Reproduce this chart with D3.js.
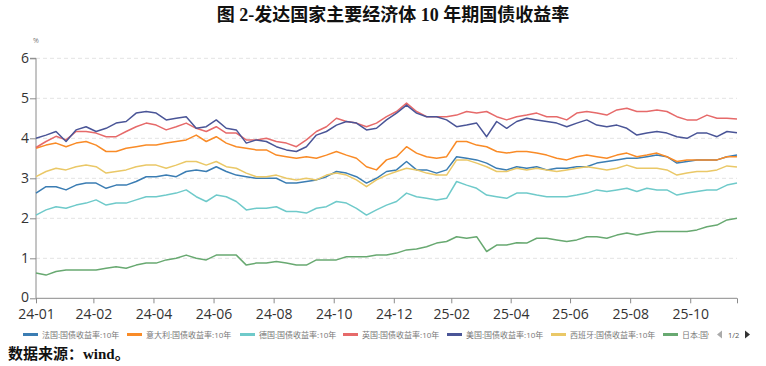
<!DOCTYPE html>
<html>
<head>
<meta charset="utf-8">
<script src="https://cdn.jsdelivr.net/npm/d3@7"></script>
<style>
  html, body { margin: 0; padding: 0; background: #fff; }
  svg { display: block; }
</style>
</head>
<body>
<svg id="chart" width="766" height="366"></svg>
<script>
// 10y government bond yields (%), roughly one point every ~7 trading days
const france = [2.63,2.79,2.79,2.71,2.83,2.88,2.88,2.75,2.83,2.83,2.92,3.04,3.04,3.08,3.04,3.17,3.21,3.17,3.29,3.17,3.08,3.04,3.0,3.0,3.0,
  2.88,2.88,2.92,2.96,3.04,3.17,3.13,3.04,2.88,3.0,3.17,3.21,3.42,3.21,3.21,3.13,3.21,3.54,3.5,3.46,3.38,3.25,3.21,3.29,
  3.25,3.29,3.21,3.25,3.25,3.29,3.29,3.38,3.42,3.46,3.5,3.5,3.54,3.58,3.54,3.38,3.42,3.46,3.46,3.46,3.54,3.58];
const italy = [3.75,3.83,3.88,3.79,3.88,3.92,3.83,3.67,3.67,3.75,3.79,3.83,3.83,3.88,3.92,3.96,4.08,3.92,4.04,3.88,3.79,3.75,3.71,3.71,3.58,
  3.54,3.5,3.54,3.5,3.58,3.67,3.58,3.5,3.29,3.21,3.46,3.54,3.79,3.63,3.54,3.5,3.54,3.92,3.92,3.83,3.79,3.67,3.63,3.67,
  3.67,3.63,3.58,3.5,3.46,3.54,3.58,3.54,3.5,3.58,3.63,3.54,3.58,3.63,3.54,3.42,3.46,3.46,3.46,3.46,3.54,3.54];
const germany = [2.08,2.21,2.29,2.25,2.33,2.38,2.46,2.33,2.38,2.38,2.46,2.54,2.54,2.58,2.63,2.71,2.54,2.42,2.58,2.54,2.42,2.21,2.25,2.25,2.29,
  2.17,2.17,2.13,2.25,2.29,2.42,2.38,2.25,2.08,2.21,2.33,2.42,2.63,2.54,2.5,2.46,2.5,2.92,2.83,2.75,2.58,2.54,2.5,2.63,
  2.63,2.58,2.54,2.54,2.54,2.58,2.63,2.71,2.67,2.71,2.75,2.67,2.75,2.71,2.71,2.58,2.63,2.67,2.71,2.71,2.83,2.88];
const uk = [3.77,3.92,4.05,3.96,4.17,4.17,4.13,4.04,4.04,4.17,4.29,4.38,4.33,4.21,4.29,4.38,4.25,4.17,4.29,4.13,4.13,3.96,3.96,4.0,3.92,
  3.88,3.79,3.96,4.17,4.29,4.5,4.42,4.38,4.29,4.38,4.54,4.67,4.88,4.67,4.54,4.54,4.54,4.58,4.67,4.63,4.67,4.54,4.46,4.54,
  4.58,4.63,4.54,4.54,4.46,4.63,4.67,4.63,4.58,4.71,4.75,4.67,4.67,4.71,4.67,4.54,4.46,4.46,4.58,4.5,4.5,4.48];
const us = [4.0,4.08,4.17,3.92,4.21,4.29,4.17,4.25,4.38,4.42,4.63,4.67,4.63,4.46,4.5,4.54,4.25,4.29,4.46,4.25,4.21,3.88,3.96,3.92,3.79,
  3.71,3.67,3.79,4.08,4.17,4.33,4.42,4.38,4.21,4.25,4.46,4.63,4.83,4.63,4.54,4.54,4.46,4.29,4.33,4.38,4.04,4.42,4.25,4.42,
  4.5,4.46,4.42,4.38,4.29,4.38,4.46,4.33,4.29,4.33,4.25,4.08,4.13,4.17,4.13,4.04,4.0,4.13,4.13,4.04,4.17,4.14];
const spain = [3.04,3.17,3.25,3.21,3.29,3.33,3.29,3.13,3.17,3.21,3.29,3.33,3.33,3.25,3.33,3.42,3.42,3.33,3.42,3.29,3.25,3.13,3.04,3.04,3.08,
  3.0,2.96,3.0,2.96,3.08,3.13,3.08,2.96,2.79,2.96,3.08,3.17,3.25,3.21,3.13,3.08,3.08,3.46,3.46,3.38,3.29,3.17,3.17,3.25,
  3.21,3.25,3.21,3.17,3.21,3.25,3.29,3.25,3.21,3.25,3.33,3.25,3.25,3.25,3.21,3.08,3.13,3.17,3.17,3.21,3.31,3.28];
const japan = [0.63,0.58,0.67,0.71,0.71,0.71,0.71,0.75,0.79,0.75,0.83,0.88,0.88,0.96,1.0,1.08,1.0,0.96,1.08,1.08,1.08,0.83,0.88,0.88,0.92,
  0.88,0.83,0.83,0.96,0.96,0.96,1.04,1.04,1.04,1.08,1.08,1.13,1.21,1.23,1.29,1.38,1.42,1.54,1.5,1.54,1.17,1.33,1.33,1.39,
  1.38,1.5,1.5,1.46,1.42,1.46,1.54,1.54,1.5,1.58,1.63,1.58,1.63,1.67,1.67,1.67,1.67,1.71,1.79,1.83,1.96,2.0];

// legend names as they show on page 1 (the last one is cut off by the pager)
const seriesNames = ['法国:国债收益率:10年', '意大利:国债收益率:10年', '德国:国债收益率:10年', '英国:国债收益率:10年',
  '美国:国债收益率:10年', '西班牙:国债收益率:10年', '日本:国债'];
const seriesValues = [france, italy, germany, uk, us, spain, japan];
const colors = ['#3b7db3', '#f98b27', '#6fcaca', '#e66a6a', '#4a5597', '#eac867', '#68a971'];

// x axis is by observation index; tick positions where the month labels fall
const xTickPos = [0, 5.73, 11.73, 17.73, 23.73, 29.73, 35.73, 41.47, 47.4, 53.33, 59.33, 65.33, 70];
const xTickLabels = ['24-01', '24-02', '24-04', '24-06', '24-08', '24-10', '24-12', '25-02', '25-04', '25-06', '25-08', '25-10', ''];
const yTicks = [0, 1, 2, 3, 4, 5, 6];

let svg = d3.select('#chart');
let x = d3.scaleLinear().domain([0, 70]).range([36, 737]);
let y = d3.scaleLinear().domain([0, 6]).range([298.3, 58.3]);

const sansFont = '"Open Sans", "Noto Sans CJK SC", sans-serif';
const serifFont = '"Liberation Serif", "Noto Sans CJK SC", serif';

// title
svg.append('text')
  .attr('x', 393).attr('y', 21)
  .attr('text-anchor', 'middle')
  .attr('font-family', serifFont)
  .attr('font-weight', 'bold')
  .attr('font-size', 18)
  .attr('fill', '#111')
  .text('图 2-发达国家主要经济体 10 年期国债收益率');

// unit
svg.append('text')
  .attr('x', 33).attr('y', 43)
  .attr('font-family', sansFont)
  .attr('font-size', 7)
  .attr('fill', '#777')
  .text('%');

// grid
svg.append('g')
  .selectAll('line')
  .data(yTicks.filter(d => d > 0))
  .join('line')
  .attr('x1', x(0)).attr('x2', x(70))
  .attr('y1', d => y(d)).attr('y2', d => y(d))
  .attr('stroke', '#e3e3e3')
  .attr('stroke-dasharray', '4,3');

// y axis
let yAxis = svg.append('g')
  .attr('transform', `translate(${x(0)},0)`)
  .call(d3.axisLeft(y).tickValues(yTicks).tickSize(6).tickPadding(1).tickFormat(d3.format('d')));
yAxis.select('.domain').attr('stroke', '#8a8a8a').attr('d', `M-6,${y(6)}H0V${y(0)}`);
yAxis.selectAll('.tick line').attr('stroke', '#8a8a8a');
yAxis.selectAll('.tick text')
  .attr('font-family', sansFont)
  .attr('font-size', 14)
  .attr('fill', '#333');
// keep the 0 clear of the first month label
yAxis.selectAll('.tick text').filter(d => d === 0).attr('dy', '0.2em');

// x axis
let xAxis = svg.append('g')
  .attr('transform', `translate(0,${y(0)})`)
  .call(d3.axisBottom(x).tickValues(xTickPos).tickSize(5).tickPadding(6)
    .tickFormat((d, i) => xTickLabels[i]));
xAxis.select('.domain').attr('stroke', '#8a8a8a').attr('d', `M${x(0)},0H${x(70)}`);
xAxis.selectAll('.tick line').attr('stroke', '#8a8a8a');
xAxis.selectAll('.tick text')
  .attr('font-family', sansFont)
  .attr('font-size', 14)
  .attr('fill', '#333');

// lines
let line = d3.line()
  .x((d, i) => x(i))
  .y(d => y(d));

seriesValues.forEach((vals, idx) => {
  svg.append('path')
    .datum(vals)
    .attr('d', line)
    .attr('fill', 'none')
    .attr('stroke', colors[idx])
    .attr('stroke-width', 1.5)
    .attr('stroke-linejoin', 'round');
});

// legend
svg.append('clipPath').attr('id', 'legend-clip')
  .append('rect').attr('x', 0).attr('y', 320).attr('width', 709).attr('height', 30);

let legend = svg.append('g').attr('clip-path', 'url(#legend-clip)');
const legendX = [23, 127, 240, 343, 447, 551, 663];
const ly = 334.5;
seriesNames.forEach((name, idx) => {
  legend.append('line')
    .attr('x1', legendX[idx]).attr('x2', legendX[idx] + 15)
    .attr('y1', ly).attr('y2', ly)
    .attr('stroke', colors[idx])
    .attr('stroke-width', 3);
  legend.append('text')
    .attr('x', legendX[idx] + 19).attr('y', ly + 3)
    .attr('font-family', sansFont)
    .attr('font-size', 8)
    .attr('fill', '#777')
    .text(name);
});

// page arrows
svg.append('path')
  .attr('d', `M722,${ly - 4}L717,${ly}L722,${ly + 4}Z`)
  .attr('fill', '#aaa');
svg.append('text')
  .attr('x', 728).attr('y', ly + 3)
  .attr('font-family', sansFont)
  .attr('font-size', 7.5)
  .attr('fill', '#555')
  .text('1/2');
svg.append('path')
  .attr('d', `M745,${ly - 4}L750,${ly}L745,${ly + 4}Z`)
  .attr('fill', '#333');

// source
svg.append('text')
  .attr('x', 8).attr('y', 359)
  .attr('font-family', serifFont)
  .attr('font-weight', 'bold')
  .attr('font-size', 15)
  .attr('fill', '#111')
  .text('数据来源：wind。');
</script>
</body>
</html>
